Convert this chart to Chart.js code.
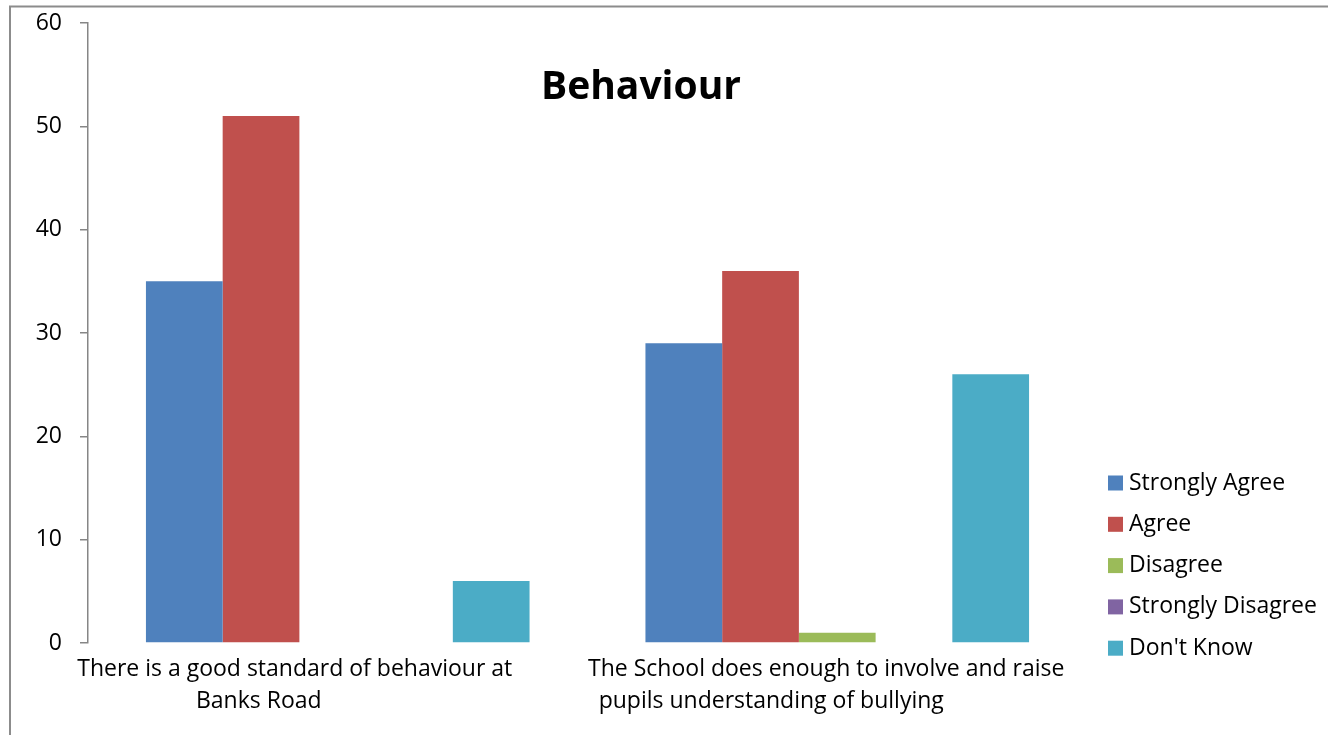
<!DOCTYPE html>
<html>
<head>
<meta charset="utf-8">
<script src="https://cdn.jsdelivr.net/npm/chart.js@4.4.0/dist/chart.umd.min.js"></script>
<style>
    html, body { margin: 0; padding: 0; background: #fff; }
    #wrap { position: relative; width: 1328px; height: 735px; }
</style>
</head>
<body>
<div id="wrap"><canvas id="behaviour-chart" width="1328" height="735"></canvas></div>
<script>
var categories = [
    ["There is a good standard of behaviour at", "Banks Road"],
    ["The School does enough to involve and raise", "pupils understanding of bullying"]
];
var seriesNames = ["Strongly Agree", "Agree", "Disagree", "Strongly Disagree", "Don't Know"];
var stronglyAgree = [35, 29];
var agree = [51, 36];
var disagree = [0, 1];
var stronglyDisagree = [0, 0];
var dontKnow = [6, 26];
var yTicks = [0, 10, 20, 30, 40, 50, 60];

var FONT = "'Open Sans', sans-serif";
var seriesColors = ["#4F81BD", "#C0504D", "#9BBB59", "#8064A2", "#4BACC6"];

var seriesValues = [stronglyAgree, agree, disagree, stronglyDisagree, dontKnow];
var datasets = seriesValues.map(function (values, i) {
    return {
        label: seriesNames[i],
        data: values,
        backgroundColor: seriesColors[i],
        borderWidth: 0,
        barPercentage: 1,
        categoryPercentage: 0.768
    };
});

// frame, title, category labels and legend drawn like the excel export
var decorations = {
    id: "decorations",
    beforeDraw: function (chart) {
        var ctx = chart.ctx;
        ctx.save();
        ctx.strokeStyle = "#8c8c8c";
        ctx.lineWidth = 2;
        ctx.beginPath();
        ctx.moveTo(10, 735);
        ctx.lineTo(10, 6.5);
        ctx.lineTo(1328, 6.5);
        ctx.stroke();
        ctx.restore();
    },
    afterDraw: function (chart) {
        var ctx = chart.ctx;
        var xScale = chart.scales.x;
        var area = chart.chartArea;
        ctx.save();

        ctx.fillStyle = "#000";
        ctx.font = "bold 39px " + FONT;
        ctx.textAlign = "center";
        ctx.textBaseline = "middle";
        ctx.fillText("Behaviour", 641, 88);

        // category labels, excel wraps them a bit off centre
        var lineOffsets = [[-43, -79], [-11, -66]];
        ctx.font = "23px " + FONT;
        categories.forEach(function (lines, i) {
            var cx = xScale.getPixelForValue(i);
            lines.forEach(function (text, j) {
                ctx.fillText(text, cx + lineOffsets[i][j], area.bottom + 26 + j * 32);
            });
        });

        ctx.textAlign = "left";
        chart.data.datasets.forEach(function (ds, i) {
            var y = 483 + i * 41.3;
            ctx.fillStyle = ds.backgroundColor;
            ctx.fillRect(1108, y - 7.5, 15, 15);
            ctx.fillStyle = "#000";
            ctx.fillText(ds.label, 1129, y);
        });
        ctx.restore();
    }
};

var chart = new Chart(document.getElementById("behaviour-chart"), {
    type: "bar",
    data: {
        labels: categories.map(function (c) { return c.join(" "); }),
        datasets: datasets
    },
    options: {
        responsive: false,
        animation: false,
        layout: { padding: { top: 23, right: 241, bottom: 92, left: 0 } },
        plugins: {
            legend: { display: false },
            title: { display: false },
            tooltip: { enabled: false }
        },
        scales: {
            x: {
                grid: { display: false, drawTicks: false },
                border: { display: false },
                ticks: { display: false }
            },
            y: {
                min: yTicks[0],
                max: yTicks[yTicks.length - 1],
                afterBuildTicks: function (scale) {
                    scale.ticks = yTicks.map(function (v) { return { value: v }; });
                },
                afterFit: function (scale) {
                    scale.width = 88;
                    scale.paddingTop = 0;
                    scale.paddingBottom = 0;
                },
                grid: { drawOnChartArea: false, tickLength: 8, color: "#868686", lineWidth: 1.5 },
                border: { display: true, color: "#868686", width: 1.5 },
                ticks: { padding: 18, color: "#000", font: { family: FONT, size: 23 } }
            }
        }
    },
    plugins: [decorations]
});
</script>
</body>
</html>
